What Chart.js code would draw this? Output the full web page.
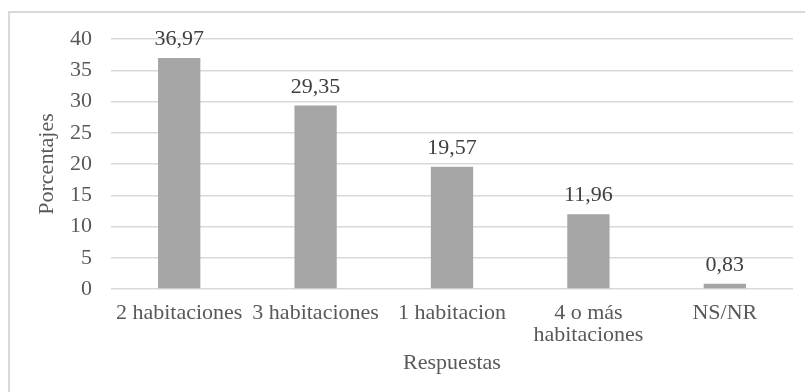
<!DOCTYPE html>
<html>
<head>
<meta charset="utf-8">
<script src="https://cdn.jsdelivr.net/npm/chart.js@4"></script>
<style>
  html, body { margin: 0; padding: 0; background: #ffffff; }
  #wrap { position: relative; width: 805px; height: 392px; overflow: hidden; }
  #frame { position: absolute; left: 8px; top: 11px; width: 900px; height: 500px;
           border-left: 2px solid #d9d9d9; border-top: 2px solid #d9d9d9; box-sizing: border-box; }
  canvas { position: absolute; left: 0; top: 0; }
</style>
</head>
<body>
<div id="wrap">
  <div id="frame"></div>
  <canvas id="c" width="805" height="392"></canvas>
</div>
<script>
const categories = ['2 habitaciones', '3 habitaciones', '1 habitacion', ['4 o más', 'habitaciones'], 'NS/NR'];
const values = [36.97, 29.35, 19.57, 11.96, 0.83];
const yTicks = [0, 5, 10, 15, 20, 25, 30, 35, 40];
const xTitle = 'Respuestas';
const yTitle = 'Porcentajes';

const FONT = "'Liberation Serif', 'Times New Roman', serif";
const TXT = '#595959';

const labelPlugin = {
  id: 'valueLabels',
  afterDatasetsDraw(chart) {
    const ctx = chart.ctx;
    const meta = chart.getDatasetMeta(0);
    ctx.save();
    ctx.font = '22px ' + FONT;
    ctx.fillStyle = '#404040';
    ctx.textAlign = 'center';
    ctx.textBaseline = 'alphabetic';
    meta.data.forEach((bar, i) => {
      const txt = values[i].toFixed(2).replace('.', ',');
      ctx.fillText(txt, bar.x, bar.y - 13);
    });
    ctx.restore();
  }
};

new Chart(document.getElementById('c'), {
  type: 'bar',
  data: {
    labels: categories,
    datasets: [{
      data: values,
      backgroundColor: '#a5a5a5',
      borderWidth: 0,
      categoryPercentage: 1,
      barPercentage: 0.31
    }]
  },
  options: {
    responsive: false,
    animation: false,
    events: [],
    layout: { padding: { left: 0, right: 12, top: 39, bottom: 0 } },
    plugins: { legend: { display: false }, tooltip: { enabled: false } },
    scales: {
      x: {
        grid: { display: false, drawTicks: false },
        border: { display: false },
        ticks: { color: TXT, font: { family: FONT, size: 22, lineHeight: 1 }, padding: 13, maxRotation: 0, autoSkip: false },
        title: { display: true, text: xTitle, color: TXT, font: { family: FONT, size: 22, lineHeight: 1 }, padding: { top: 18, bottom: 18 } },
        afterFit(s) { s.height = 103; }
      },
      y: {
        min: 0, max: 40,
        afterBuildTicks(s) { s.ticks = yTicks.map(v => ({ value: v })); },
        grid: { color: '#d9d9d9', lineWidth: 1.5, drawTicks: false },
        border: { display: false },
        ticks: { color: TXT, font: { family: FONT, size: 22, lineHeight: 1 }, padding: 19 },
        title: { display: true, text: yTitle, color: TXT, font: { family: FONT, size: 22, lineHeight: 1 }, padding: { top: 36, bottom: 36 } },
        afterFit(s) { s.width = 111; }
      }
    }
  },
  plugins: [labelPlugin]
});
</script>
</body>
</html>
